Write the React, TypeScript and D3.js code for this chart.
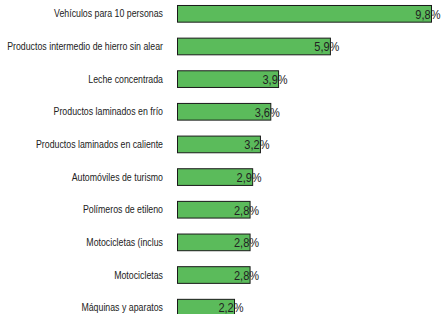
import React, { useEffect, useRef } from 'react';
import * as d3 from 'd3';

const categories = [
  'Vehículos para 10 personas',
  'Productos intermedio de hierro sin alear',
  'Leche concentrada',
  'Productos laminados en frío',
  'Productos laminados en caliente',
  'Automóviles de turismo',
  'Polímeros de etileno',
  'Motocicletas (inclus',
  'Motocicletas',
  'Máquinas y aparatos',
];
const values = [9.8, 5.9, 3.9, 3.6, 3.2, 2.9, 2.8, 2.8, 2.8, 2.2];
const valueLabels = ['9,8%', '5,9%', '3,9%', '3,6%', '3,2%', '2,9%', '2,8%', '2,8%', '2,8%', '2,2%'];

const width = 441;
const height = 314;

function App() {
  const ref = useRef<SVGSVGElement>(null);

  useEffect(() => {
    const svg = d3.select(ref.current);
    svg.selectAll('*').remove();

    const x = d3.scaleLinear().domain([0, 9.8]).range([177.5, 431.5]);
    const y = d3
      .scaleBand()
      .domain(categories)
      .range([0, 321.5])
      .paddingInner(0.489)
      .paddingOuter(0.168);

    const rows = svg
      .selectAll('g.row')
      .data(categories)
      .enter()
      .append('g')
      .attr('class', 'row');

    rows
      .append('rect')
      .attr('x', x(0))
      .attr('y', d => y(d)!)
      .attr('width', (d, i) => x(values[i]) - x(0))
      .attr('height', y.bandwidth())
      .attr('fill', '#5BBB5B')
      .attr('stroke', '#1a1a1a')
      .attr('stroke-width', 1);

    // category labels, a bit condensed like the original
    rows
      .append('text')
      .attr('transform', d => `translate(163,${y(d)! + y.bandwidth() / 2}) scale(0.88,1)`)
      .attr('dy', '0.35em')
      .attr('text-anchor', 'end')
      .attr('font-family', 'Liberation Sans, Arial, sans-serif')
      .attr('font-size', 10)
      .attr('fill', '#222')
      .text(d => d);

    rows
      .append('text')
      .attr('transform', (d, i) => `translate(${x(values[i]) + 9},${y(d)! + y.bandwidth() / 2}) scale(0.92,1)`)
      .attr('dy', '0.4em')
      .attr('text-anchor', 'end')
      .attr('font-family', 'Liberation Sans, Arial, sans-serif')
      .attr('font-size', 12)
      .attr('fill', '#222')
      .text((d, i) => valueLabels[i]);
  }, []);

  return (
    <svg
      ref={ref}
      width={width}
      height={height}
      style={{ position: 'absolute', left: 0, top: 0, background: '#fff' }}
    />
  );
}

export default App;
